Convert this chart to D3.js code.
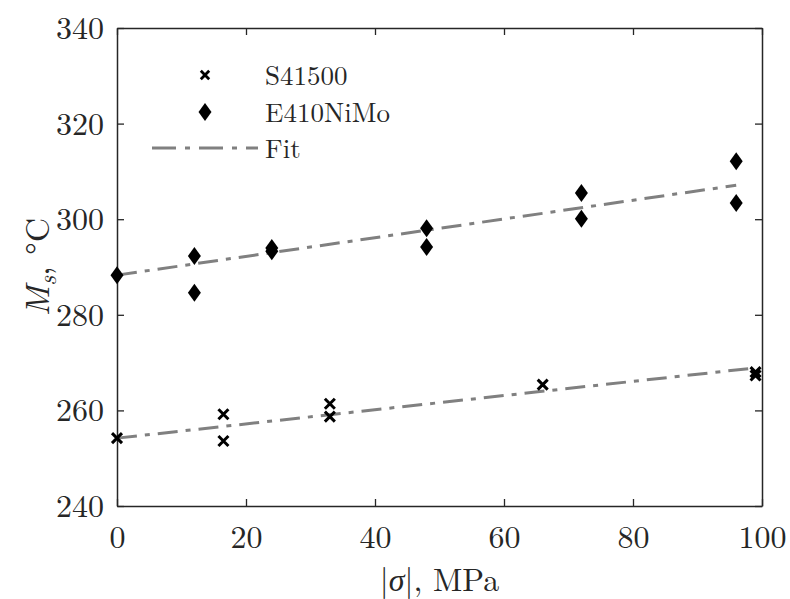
<!DOCTYPE html>
<html>
<head>
<meta charset="utf-8">
<script src="https://cdn.jsdelivr.net/npm/d3@7"></script>
<style>
  body { margin: 0; background: #fff; }
  svg text { font-family: "Latin Modern Roman", "CMU Serif", "Liberation Serif", serif; fill: #262626; }
</style>
</head>
<body>
<svg id="chart" width="790" height="599"></svg>
<script>
// data
var s41500_x = [0, 16.5, 16.5, 33, 33, 66, 99, 99];
var s41500_y = [254.2, 259.2, 253.6, 261.4, 258.7, 265.4, 267.3, 268.0];

var e410_x = [0, 12, 12, 24, 24, 48, 48, 72, 72, 96, 96];
var e410_y = [288.3, 292.3, 284.6, 294.0, 293.3, 298.1, 294.2, 305.5, 300.1, 312.1, 303.4];

// fit lines, end points
var fit_s41500_x = [0, 99];
var fit_s41500_y = [254.2, 268.9];
var fit_e410_x = [0, 96];
var fit_e410_y = [288.3, 307.1];

var x_ticks = [0, 20, 40, 60, 80, 100];
var y_ticks = [240, 260, 280, 300, 320, 340];

var legend_labels = ['S41500', 'E410NiMo', 'Fit'];

var plot = { left: 117, right: 762, top: 28, bottom: 506 };
var axis_color = '#262626';
var fit_color = '#808080';
var fit_dash = '20,8,5,8';

var svg = d3.select('#chart');

var x = d3.scaleLinear().domain([0, 100]).range([plot.left, plot.right]);
var y = d3.scaleLinear().domain([240, 340]).range([plot.bottom, plot.top]);

// ticks inside, on all four sides (box on)
var tick_len = 7;
var g_axes = svg.append('g');

var xAxisB = d3.axisBottom(x).tickValues(x_ticks).tickSizeInner(-tick_len).tickSizeOuter(0).tickFormat(d3.format('d'));
var xAxisT = d3.axisTop(x).tickValues(x_ticks).tickSizeInner(-tick_len).tickSizeOuter(0).tickFormat('');
var yAxisL = d3.axisLeft(y).tickValues(y_ticks).tickSizeInner(-tick_len).tickSizeOuter(0).tickFormat(d3.format('d'));
var yAxisR = d3.axisRight(y).tickValues(y_ticks).tickSizeInner(-tick_len).tickSizeOuter(0).tickFormat('');

var styleAxis = function(g) {
    g.select('.domain').attr('stroke', axis_color).attr('stroke-width', 1.5);
    g.selectAll('.tick line').attr('stroke', axis_color).attr('stroke-width', 1.3);
    g.selectAll('.tick text')
        .style('font-family', '"Latin Modern Roman", "CMU Serif", "Liberation Serif", serif')
        .style('font-size', '32px')
        .attr('fill', axis_color);
};

g_axes.append('g').attr('transform', 'translate(0,' + plot.bottom + ')').call(xAxisB).call(styleAxis)
    .selectAll('.tick text').attr('dy', null).attr('y', 42);
g_axes.append('g').attr('transform', 'translate(0,' + plot.top + ')').call(xAxisT).call(styleAxis);
g_axes.append('g').attr('transform', 'translate(' + plot.left + ',0)').call(yAxisL).call(styleAxis)
    .selectAll('.tick text').attr('x', -13).attr('dy', '0.33em');
g_axes.append('g').attr('transform', 'translate(' + plot.right + ',0)').call(yAxisR).call(styleAxis);

// fit lines
var line = d3.line().x(function(d) { return x(d[0]); }).y(function(d) { return y(d[1]); });
var fits = [d3.zip(fit_s41500_x, fit_s41500_y), d3.zip(fit_e410_x, fit_e410_y)];
svg.append('g').selectAll('path')
    .data(fits)
    .enter()
    .append('path')
    .attr('d', line)
    .attr('fill', 'none')
    .attr('stroke', fit_color)
    .attr('stroke-width', 3)
    .attr('stroke-dasharray', fit_dash);

// markers
var cross = function(sel, s, w) {
    sel.append('path')
        .attr('d', 'M' + (-s) + ',' + (-s) + 'L' + s + ',' + s + 'M' + (-s) + ',' + s + 'L' + s + ',' + (-s))
        .attr('stroke', '#000')
        .attr('stroke-width', w)
        .attr('fill', 'none');
};
var diamond = function(sel, w, h) {
    sel.append('path')
        .attr('d', 'M0,' + (-h) + 'L' + w + ',0L0,' + h + 'L' + (-w) + ',0Z')
        .attr('fill', '#000');
};

svg.append('g').selectAll('g')
    .data(d3.zip(e410_x, e410_y))
    .enter()
    .append('g')
    .attr('transform', function(d) { return 'translate(' + x(d[0]) + ',' + y(d[1]) + ')'; })
    .each(function() { diamond(d3.select(this), 6.5, 9); });

svg.append('g').selectAll('g')
    .data(d3.zip(s41500_x, s41500_y))
    .enter()
    .append('g')
    .attr('transform', function(d) { return 'translate(' + x(d[0]) + ',' + y(d[1]) + ')'; })
    .each(function() { cross(d3.select(this), 5, 3); });

// legend
var legend = svg.append('g');
var leg_y = [75, 112, 148];
var leg_text_x = 265;

cross(legend.append('g').attr('transform', 'translate(205,' + leg_y[0] + ')'), 4.2, 2.8);
diamond(legend.append('g').attr('transform', 'translate(205,' + leg_y[1] + ')'), 6.5, 9);
legend.append('line')
    .attr('x1', 152).attr('x2', 258)
    .attr('y1', leg_y[2]).attr('y2', leg_y[2])
    .attr('stroke', fit_color)
    .attr('stroke-width', 3)
    .attr('stroke-dasharray', '24,9,5,9');

legend.selectAll('text')
    .data(legend_labels)
    .enter()
    .append('text')
    .attr('x', leg_text_x)
    .attr('y', function(d, i) { return leg_y[i] + 10; })
    .style('font-size', '27px')
    .text(function(d) { return d; });

// axis labels
var xl = svg.append('text')
    .attr('x', (plot.left + plot.right) / 2)
    .attr('y', 591)
    .attr('text-anchor', 'middle')
    .style('font-size', '32px');
xl.append('tspan').text('|');
xl.append('tspan').style('font-style', 'italic').text('σ');
xl.append('tspan').text('|, MPa');

var yl = svg.append('text')
    .attr('transform', 'translate(49,' + ((plot.top + plot.bottom) / 2) + ') rotate(-90)')
    .attr('text-anchor', 'middle')
    .style('font-size', '34px');
yl.append('tspan').style('font-style', 'italic').text('M');
yl.append('tspan').style('font-style', 'italic').style('font-size', '24px').attr('dy', 7).text('s');
yl.append('tspan').attr('dy', -7).text(', °C');
</script>
</body>
</html>
